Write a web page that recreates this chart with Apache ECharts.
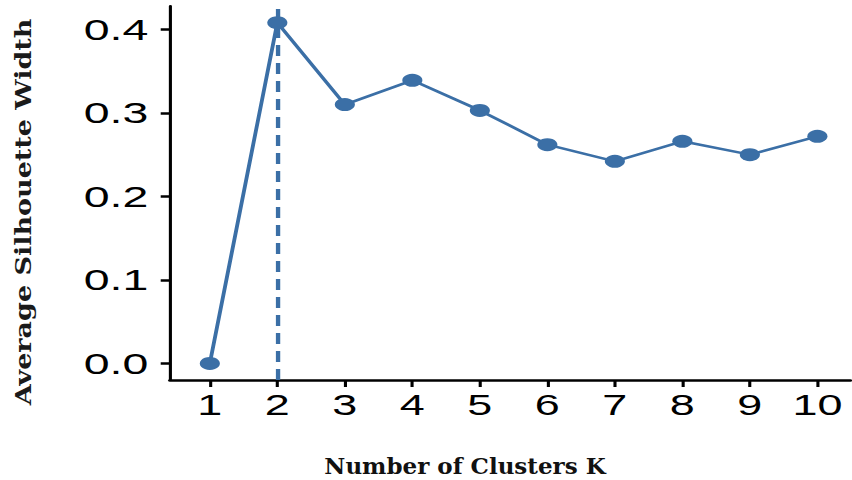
<!DOCTYPE html>
<html>
<head>
<meta charset="utf-8">
<script src="https://cdn.jsdelivr.net/npm/echarts@6/dist/echarts.min.js"></script>
<style>
  html, body { margin: 0; padding: 0; background: #fff; overflow: hidden; }
  #wrap { width: 852px; height: 480px; overflow: hidden; }
  /* the plot is laid out in a narrower box and widened horizontally */
  #chart { width: 550px; height: 480px; transform: scaleX(1.549091); transform-origin: 0 0; }
</style>
</head>
<body>
<div id="wrap"><div id="chart"></div></div>
<script>
const STRETCH = 852 / 550;

// number of clusters and the average silhouette width for each
const clusterCounts = [1, 2, 3, 4, 5, 6, 7, 8, 9, 10];
const silhouetteWidths = [0.0, 0.408, 0.310, 0.339, 0.303, 0.262, 0.242, 0.266, 0.250, 0.272];
const yTickValues = [0.0, 0.1, 0.2, 0.3, 0.4];
const bestK = 2;

const lineColor = '#3b6fa6';
const points = clusterCounts.map((k, i) => [k, silhouetteWidths[i]]);

const chart = echarts.init(document.getElementById('chart'), null, { renderer: 'svg' });

chart.setOption({
  animation: false,
  backgroundColor: '#fff',
  grid: { left: 170 / STRETCH, right: 1, top: 6, bottom: 100, containLabel: false },
  xAxis: {
    type: 'value',
    min: 0.41,
    max: 10.49,
    splitLine: { show: false },
    axisLine: { onZero: false, lineStyle: { color: '#000', width: 2.5 } },
    axisTick: { show: true, length: 7, customValues: clusterCounts, lineStyle: { color: '#000', width: 2 } },
    axisLabel: {
      customValues: clusterCounts,
      margin: 11,
      color: '#000',
      fontFamily: 'Liberation Sans',
      fontSize: 29
    }
  },
  yAxis: {
    type: 'value',
    min: -0.0198,
    max: 0.428,
    splitLine: { show: false },
    axisLine: { onZero: false, lineStyle: { color: '#000', width: 2 } },
    axisTick: { show: true, length: 6, customValues: yTickValues, lineStyle: { color: '#000', width: 2.5 } },
    axisLabel: {
      customValues: yTickValues,
      margin: 14,
      color: '#000',
      fontFamily: 'Liberation Sans',
      fontSize: 30,
      formatter: v => v.toFixed(1)
    }
  },
  graphic: [
    {
      type: 'text',
      x: 465 / STRETCH,
      y: 466,
      scaleX: 1 / STRETCH,
      silent: true,
      style: {
        text: 'Number of Clusters K',
        font: 'bold 23px "DejaVu Serif"',
        fill: '#111',
        align: 'center',
        verticalAlign: 'middle',
        textAlign: 'center',
        textVerticalAlign: 'middle'
      }
    },
    {
      type: 'text',
      x: 23 / STRETCH,
      y: 212,
      rotation: Math.PI / 2,
      scaleY: 0.85 / STRETCH,
      silent: true,
      style: {
        text: 'Average Silhouette Width',
        font: 'bold 27px "DejaVu Serif"',
        fill: '#1a1a1a',
        align: 'center',
        verticalAlign: 'middle',
        textAlign: 'center',
        textVerticalAlign: 'middle'
      }
    }
  ],
  series: [
    {
      type: 'line',
      data: points,
      symbol: 'circle',
      symbolSize: 13,
      showSymbol: true,
      lineStyle: { color: lineColor, width: 2.5 },
      itemStyle: { color: lineColor },
      z: 3,
      markLine: {
        silent: true,
        symbol: 'none',
        label: { show: false },
        lineStyle: { color: lineColor, width: 2.8, type: [11, 7] },
        data: [{ xAxis: bestK }],
        z: 2
      }
    }
  ]
});
</script>
</body>
</html>
